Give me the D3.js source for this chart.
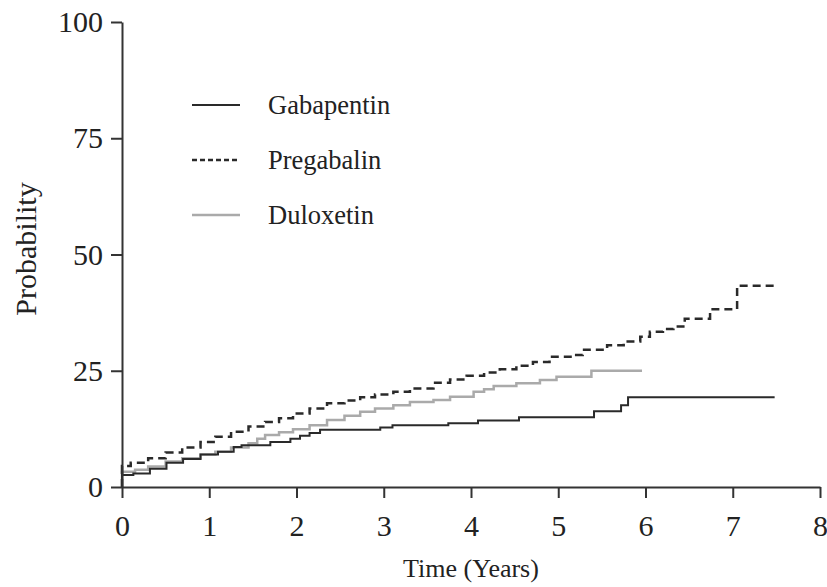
<!DOCTYPE html>
<html>
<head>
<meta charset="utf-8">
<script src="https://cdn.jsdelivr.net/npm/d3@7"></script>
<style>
  body { margin: 0; background: #fff; }
  svg text { font-family: "Liberation Serif", "DejaVu Serif", serif; fill: #222; }
</style>
</head>
<body>
<svg width="827" height="587"></svg>
<script>
// cumulative probability (%) by time in years, step functions
var gabTime = [0, 0, 0.13, 0.32, 0.51, 0.7, 0.9, 1.1, 1.28, 1.37, 1.7, 1.93, 2.04, 2.15, 2.27, 2.96, 3.1, 3.74, 4.08, 4.55, 5.41, 5.72, 5.8, 7.48];
var gabVal  = [0, 2.6, 2.9, 3.9, 5.2, 6.0, 7.0, 7.6, 8.6, 9.0, 9.7, 10.4, 11.0, 11.6, 12.3, 12.8, 13.3, 13.7, 14.3, 15.0, 16.3, 17.6, 19.3, 19.3];

var preTime = [0, 0, 0.1, 0.3, 0.5, 0.69, 0.9, 1.07, 1.25, 1.45, 1.64, 1.8, 1.96, 2.15, 2.35, 2.55, 2.73, 2.9, 3.11, 3.3, 3.57, 3.76, 3.95, 4.15, 4.33, 4.52, 4.71, 4.9, 5.17, 5.28, 5.56, 5.75, 5.94, 6.05, 6.2, 6.32, 6.45, 6.74, 7.05, 7.48];
var preVal  = [0, 4.5, 5.2, 6.2, 7.4, 8.5, 9.7, 10.8, 11.9, 13.0, 14.0, 14.8, 15.8, 16.9, 18.0, 18.6, 19.3, 19.9, 20.5, 21.2, 22.4, 23.1, 23.9, 24.6, 25.3, 26.1, 26.9, 28.0, 28.4, 29.5, 30.5, 31.3, 32.3, 33.4, 34.0, 34.5, 36.2, 38.2, 43.3, 43.3];

var dulTime = [0, 0, 0.15, 0.3, 0.5, 0.69, 0.9, 1.07, 1.25, 1.45, 1.55, 1.64, 1.8, 1.96, 2.15, 2.35, 2.55, 2.73, 2.9, 3.11, 3.3, 3.57, 3.76, 4.03, 4.15, 4.26, 4.52, 4.79, 4.98, 5.38, 5.96];
var dulVal  = [0, 3.3, 3.7, 4.4, 5.5, 6.2, 7.0, 7.6, 8.5, 9.4, 10.4, 11.2, 11.8, 12.4, 13.3, 14.4, 15.3, 16.2, 16.9, 17.6, 18.3, 18.7, 19.4, 20.5, 21.0, 21.7, 22.3, 23.0, 23.7, 25.0, 25.0];

var xTicks = [0, 1, 2, 3, 4, 5, 6, 7, 8];
var yTicks = [0, 25, 50, 75, 100];
var seriesNames = ["Gabapentin", "Pregabalin", "Duloxetin"];

var svg = d3.select("svg");

var x = d3.scaleLinear().domain([0, 8]).range([122, 820]);
var y = d3.scaleLinear().domain([0, 100]).range([487, 22]);

var zip = function (t, v) { return t.map(function (d, i) { return { t: d, v: v[i] }; }); };

var series = [
  { name: seriesNames[0], pts: zip(gabTime, gabVal), color: "#2a2a2a", width: 2, dash: null },
  { name: seriesNames[1], pts: zip(preTime, preVal), color: "#2a2a2a", width: 2.5, dash: "8,5" },
  { name: seriesNames[2], pts: zip(dulTime, dulVal), color: "#aaaaaa", width: 2.5, dash: null }
];

var line = d3.line()
  .x(function (d) { return x(d.t); })
  .y(function (d) { return y(d.v); })
  .curve(d3.curveStepAfter);

// draw gray first so the dark lines sit on top
[series[2], series[0], series[1]].forEach(function (s) {
  svg.append("path")
    .datum(s.pts)
    .attr("d", line)
    .attr("fill", "none")
    .attr("stroke", s.color)
    .attr("stroke-width", s.width)
    .attr("stroke-dasharray", s.dash);
});

// axes
var xAxis = svg.append("g")
  .attr("transform", "translate(0," + y(0) + ")")
  .call(d3.axisBottom(x).tickValues(xTicks).tickSize(11).tickSizeOuter(0).tickPadding(17));

var yAxis = svg.append("g")
  .attr("transform", "translate(" + x(0) + ",0)")
  .call(d3.axisLeft(y).tickValues(yTicks).tickSize(11).tickSizeOuter(0).tickPadding(8));

[xAxis, yAxis].forEach(function (g) {
  g.select(".domain").attr("stroke", "#333").attr("stroke-width", 2);
  g.selectAll(".tick line").attr("stroke", "#333").attr("stroke-width", 2);
  g.selectAll(".tick text")
    .attr("font-family", "Liberation Serif, serif")
    .attr("font-size", 30)
    .attr("fill", "#222");
});

// axis titles
svg.append("text")
  .attr("x", 471)
  .attr("y", 577)
  .attr("text-anchor", "middle")
  .attr("font-size", 26)
  .text("Time (Years)");

svg.append("text")
  .attr("transform", "translate(36,249) rotate(-90)")
  .attr("text-anchor", "middle")
  .attr("font-size", 30)
  .text("Probability");

// legend
var legend = svg.append("g").attr("transform", "translate(192,105)");
series.forEach(function (s, i) {
  var row = legend.append("g").attr("transform", "translate(0," + i * 55 + ")");
  row.append("line")
    .attr("x1", 0).attr("x2", 48)
    .attr("stroke", s.color)
    .attr("stroke-width", s.width)
    .attr("stroke-dasharray", s.dash ? "5,3" : null);
  row.append("text")
    .attr("x", 76)
    .attr("dy", "0.35em")
    .attr("font-size", 26.5)
    .text(s.name);
});
</script>
</body>
</html>
